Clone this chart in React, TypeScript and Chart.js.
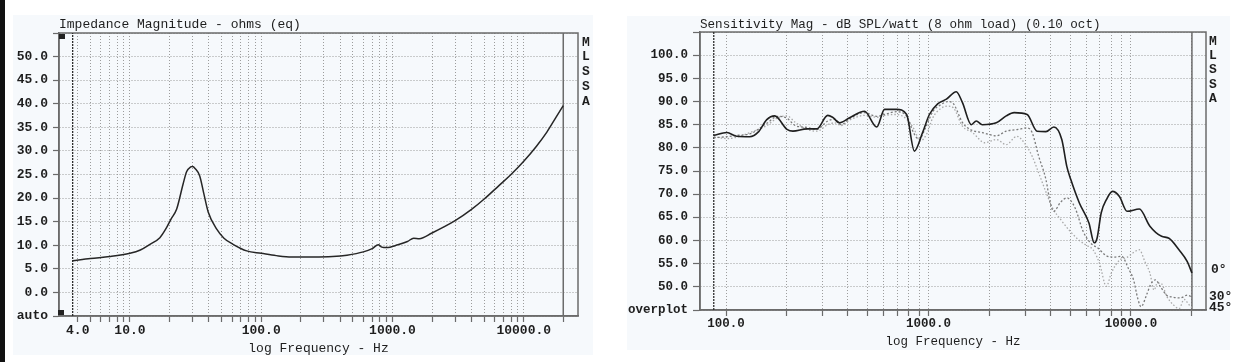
import React, { useEffect, useRef } from 'react';
import { Chart, registerables } from 'chart.js';
Chart.register(...registerables);

// ---------- Impedance (left) ----------
const impFreq = [3.66, 5, 7, 10, 12, 14.2, 16.9, 18.7, 20.5, 22.7, 25.4, 27, 29, 30, 31.5, 34, 36.5, 39.5, 45.8, 52, 61, 77.5, 100, 130, 170, 250, 350, 450, 600, 700, 780, 830, 900, 1100, 1300, 1450, 1600, 2000, 3000, 4000, 5000, 6500, 8000, 10000, 12500, 15000, 17500, 20000];
const impOhms = [6.7, 7.2, 7.6, 8.3, 9.0, 10.2, 11.6, 13.4, 15.5, 17.7, 23.0, 25.6, 26.6, 26.7, 26.2, 24.7, 21.0, 17.0, 13.4, 11.5, 10.2, 8.8, 8.3, 7.8, 7.5, 7.5, 7.6, 7.9, 8.6, 9.3, 10.1, 9.6, 9.5, 10.1, 10.8, 11.5, 11.4, 12.6, 15.2, 17.6, 19.8, 22.7, 25.0, 27.8, 31.0, 34.0, 37.0, 39.6];
const impYRange = [-5, 55];
const impXRange = [2.88, 25900];
const impXTicks = [4, 5, 6, 7, 8, 9, 10, 20, 30, 40, 50, 60, 70, 80, 90, 100, 200, 300, 400, 500, 600, 700, 800, 900, 1000, 2000, 3000, 4000, 5000, 6000, 7000, 8000, 9000, 10000, 20000];
const impXLabels: Record<number, string> = { 4: '4.0', 10: '10.0', 100: '100.0', 1000: '1000.0', 10000: '10000.0' };

// ---------- Sensitivity (right) ----------
const spl0Freq = [87, 101, 113, 131, 145, 159, 174, 200, 214, 251, 281, 318, 336, 364, 408, 483, 555, 607, 695, 780, 852, 935, 1010, 1110, 1226, 1372, 1470, 1627, 1722, 1845, 2162, 2420, 2649, 3070, 3434, 3800, 4160, 4553, 4820, 5040, 5560, 6200, 6580, 6800, 7130, 7560, 8100, 8770, 9570, 11000, 12400, 14170, 15400, 17260, 18940, 20000];
const spl0 = [82.7, 83.3, 82.5, 82.4, 83.5, 86.1, 86.9, 84.0, 83.6, 84.1, 84.1, 87.0, 86.6, 85.4, 86.5, 87.9, 84.5, 88.3, 88.3, 87.2, 79.3, 83.3, 87.2, 89.5, 90.5, 92.1, 89.8, 85.0, 85.8, 85.0, 85.4, 86.9, 87.6, 87.2, 83.6, 83.5, 84.5, 81.8, 76.0, 73.2, 68.1, 63.8, 59.5, 60.5, 66.0, 68.8, 70.6, 69.5, 66.3, 66.8, 63.1, 60.9, 60.5, 58.0, 55.5, 53.0];
const spl30Freq = [87, 101, 113, 131, 159, 180, 200, 220, 251, 281, 318, 345, 370, 408, 483, 555, 607, 695, 780, 850, 900, 960, 1050, 1150, 1250, 1330, 1470, 1600, 1845, 2162, 2420, 2800, 3070, 3250, 3500, 3800, 4000, 4150, 4500, 4820, 5300, 5800, 6300, 6900, 7500, 8200, 9000, 9700, 10300, 10800, 11200, 12000, 12500, 13200, 14000, 15000, 16000, 17500, 19000, 20000];
const spl30 = [82.2, 82.4, 82.7, 83.0, 85.3, 86.8, 86.4, 84.8, 84.4, 84.0, 85.8, 86.2, 85.0, 86.3, 87.6, 86.8, 87.2, 87.8, 86.8, 83.0, 81.8, 84.0, 87.8, 89.3, 90.0, 89.5, 85.5, 84.0, 83.3, 82.6, 83.6, 84.0, 84.3, 83.3, 78.2, 73.2, 68.0, 66.3, 68.3, 69.2, 67.0, 62.0, 59.5, 58.3, 56.8, 56.4, 56.6, 54.0, 51.5, 47.5, 45.7, 48.5, 50.5, 51.5, 50.0, 48.2, 47.8, 47.6, 48.2, 47.8];
const spl45Freq = [87, 101, 113, 131, 159, 180, 200, 220, 251, 281, 318, 345, 370, 408, 483, 555, 607, 695, 780, 850, 910, 980, 1050, 1150, 1250, 1330, 1470, 1650, 1900, 2162, 2420, 2730, 2970, 3250, 3500, 3800, 4100, 4500, 5000, 5500, 6000, 6500, 7000, 7560, 8000, 8800, 9500, 10300, 11000, 11700, 12400, 13000, 13500, 14200, 15000, 16300, 17300, 18300, 19300, 20000];
const spl45 = [82.4, 82.0, 82.3, 83.3, 84.8, 86.5, 86.9, 85.5, 84.0, 83.6, 85.0, 85.4, 84.8, 86.0, 87.0, 86.6, 87.0, 87.2, 86.2, 84.0, 81.5, 83.0, 86.5, 88.5, 89.0, 88.6, 84.7, 83.3, 81.1, 81.8, 80.7, 82.5, 81.1, 78.2, 74.6, 70.5, 67.0, 64.5, 62.0, 60.2, 59.0, 58.0, 55.0, 50.1, 53.0, 55.8, 56.3, 57.4, 58.0, 55.5, 53.0, 49.3, 50.8, 50.6, 48.0, 46.0, 45.3, 47.3, 46.2, 45.5];
const splYRange = [45, 105];
const splXRange = [74.4, 23470];
const splXTicks = [100, 200, 300, 400, 500, 600, 700, 800, 900, 1000, 2000, 3000, 4000, 5000, 6000, 7000, 8000, 9000, 10000, 20000];
const splXLabels: Record<number, string> = { 100: '100.0', 1000: '1000.0', 10000: '10000.0' };

const FONT = "'Liberation Mono', 'DejaVu Sans Mono', monospace";
const AXIS = '#6b6b6b';
const GRID = '#9c9c9c';
const TEXT = '#1e1e1e';

const framePlugin = {
  id: 'frame',
  beforeDatasetsDraw(chart: any, _a: any, opts: any) {
    const { ctx, chartArea: a } = chart;
    ctx.save();
    ctx.strokeStyle = opts.color || AXIS;
    ctx.lineWidth = opts.width || 1.5;
    ctx.strokeRect(a.left, a.top, a.right - a.left, a.bottom - a.top);
    ctx.restore();
  },
};

const pts = (xs: number[], ys: number[]) => xs.map((x, i) => ({ x, y: ys[i] }));

function buildConfig(p: any) {
  const vline = (x: number, color: string, dash: number[], width: number) => ({
    data: [{ x, y: p.yRange[0] }, { x, y: p.yRange[1] }],
    borderColor: color, borderWidth: width, borderDash: dash, pointRadius: 0, order: 5,
  });
  return {
    type: 'line',
    data: {
      datasets: [
        ...p.series.map((s: any) => ({
          data: pts(s.x, s.y), borderColor: s.color, borderWidth: s.width, borderDash: s.dash,
          pointRadius: 0, cubicInterpolationMode: 'monotone', order: s.order,
        })),
        vline(p.xStart, '#2e2e2e', [2, 1], 1.3),
        vline(p.xEnd, AXIS, [], 1.5),
      ],
    },
    options: {
      responsive: false, maintainAspectRatio: false, animation: false,
      layout: { padding: { left: 0, right: p.padRight, top: 0, bottom: 0 } },
      plugins: {
        legend: { display: false }, tooltip: { enabled: false },
        title: {
          display: true, text: p.title, align: 'start', fullSize: false, color: TEXT,
          font: { family: FONT, size: p.titleSize, lineHeight: 1.2, weight: 'normal' },
          padding: { top: p.titlePadTop, bottom: p.titlePadBottom },
        },
        frame: { color: AXIS, width: 1.5 },
      },
      scales: {
        x: {
          type: 'logarithmic', min: p.xRange[0], max: p.xRange[1], bounds: 'data',
          afterBuildTicks: (s: any) => { s.ticks = p.xTicks.map((v: number) => ({ value: v })); },
          afterFit: (s: any) => { s.height = p.xAxisHeight; },
          grid: { color: GRID, lineWidth: 1, drawTicks: true, tickLength: 6, tickColor: AXIS, tickWidth: 1.2, tickBorderDash: [] },
          border: { display: true, color: AXIS, width: 1.5, dash: [1, 2] },
          ticks: {
            autoSkip: false, maxRotation: 0, minRotation: 0, padding: p.xTickPad, color: TEXT,
            font: { family: FONT, size: p.tickSize, weight: 'bold', lineHeight: 1.2 },
            callback: (v: number) => p.xLabels[v] ?? '',
          },
          title: {
            display: true, text: 'log Frequency - Hz', color: TEXT,
            font: { family: FONT, size: p.tickSize, lineHeight: 1.2 },
            padding: { top: 0, bottom: p.xTitlePadBottom },
          },
        },
        y: {
          type: 'linear', min: p.yRange[0], max: p.yRange[1],
          afterFit: (s: any) => { s.width = p.yAxisWidth; },
          grid: { color: GRID, lineWidth: 1, drawTicks: true, tickLength: p.yTickLen, tickColor: AXIS, tickWidth: 1.2, tickBorderDash: [] },
          border: { display: true, color: AXIS, width: 1.5, dash: [1, 2] },
          ticks: {
            stepSize: 5, padding: 5, color: TEXT,
            font: { family: FONT, size: p.tickSize, weight: 'bold', lineHeight: 1.2 },
            callback: (v: number) => (v === p.yRange[0] ? p.bottomLabel : v === p.yRange[1] ? '' : v.toFixed(1)),
          },
        },
      },
    },
    plugins: [framePlugin],
  };
}

function Panel({ cfg, left, width }: { cfg: any; left: number; width: number }) {
  const ref = useRef<HTMLCanvasElement>(null);
  useEffect(() => {
    const chart = new Chart(ref.current as HTMLCanvasElement, buildConfig(cfg) as any);
    return () => chart.destroy();
  }, []);
  return <canvas ref={ref} width={width} height={362} style={{ position: 'absolute', left, top: 0, width, height: 362 }} />;
}

const leftCfg = {
  title: 'Impedance Magnitude - ohms (eq)', titleSize: 13, titlePadTop: 17, titlePadBottom: 0.4,
  series: [{ x: impFreq, y: impOhms, color: '#262626', width: 1.5, dash: [], order: 1 }],
  xStart: impFreq[0], xEnd: impFreq[impFreq.length - 1], yRange: impYRange, xRange: impXRange,
  xTicks: impXTicks, xLabels: impXLabels, padRight: 22, xAxisHeight: 46, yAxisWidth: 59, yTickLen: 6,
  tickSize: 13, xTickPad: 1.2, xTitlePadBottom: 5.2, bottomLabel: 'auto',
};

const rightCfg = {
  title: 'Sensitivity Mag - dB SPL/watt (8 ohm load) (0.10 oct)', titleSize: 12.6, titlePadTop: 16.8, titlePadBottom: 0.1,
  series: [
    { x: spl0Freq, y: spl0, color: '#1f1f1f', width: 1.6, dash: [], order: 1 },
    { x: spl30Freq, y: spl30, color: '#7a7a7a', width: 1.3, dash: [2, 2], order: 2 },
    { x: spl45Freq, y: spl45, color: '#a8a8a8', width: 1.3, dash: [1.5, 2], order: 3 },
  ],
  xStart: spl0Freq[0], xEnd: spl0Freq[spl0Freq.length - 1], yRange: splYRange, xRange: splXRange,
  xTicks: splXTicks, xLabels: splXLabels, padRight: 24, xAxisHeight: 52, yAxisWidth: 80, yTickLen: 7,
  tickSize: 12.5, xTickPad: 0.5, xTitlePadBottom: 12.5, bottomLabel: 'overplot',
};

const sideText: React.CSSProperties = {
  position: 'absolute', fontFamily: FONT, fontWeight: 'bold', fontSize: 13, color: TEXT,
  whiteSpace: 'pre', textAlign: 'center', width: 14,
};

export default function App() {
  return (
    <div style={{ position: 'fixed', left: 0, top: 0, width: 1259, height: 362, background: '#ffffff', overflow: 'hidden' }}>
      <div style={{ position: 'absolute', left: 13, top: 15, width: 580, height: 340, background: '#f6f9fc' }} />
      <div style={{ position: 'absolute', left: 627, top: 16, width: 603, height: 334, background: '#f6f9fc' }} />
      <div style={{ position: 'absolute', left: 0, top: 0, width: 5, height: 362, background: '#111' }} />
      <Panel cfg={leftCfg} left={0} width={600} />
      <Panel cfg={rightCfg} left={620} width={610} />
      <div style={{ position: 'absolute', left: 59, top: 34, width: 6, height: 5, background: '#222' }} />
      <div style={{ position: 'absolute', left: 58, top: 310, width: 6, height: 5, background: '#222' }} />
      <div style={{ ...sideText, left: 579, top: 35.6, lineHeight: '14.8px' }}>{'M\nL\nS\nS\nA'}</div>
      <div style={{ ...sideText, left: 1206, top: 34.8, lineHeight: '14.3px' }}>{'M\nL\nS\nS\nA'}</div>
      <div style={{ ...sideText, width: 'auto', left: 1211, top: 262, lineHeight: '15px' }}>0°</div>
      <div style={{ ...sideText, width: 'auto', left: 1209, top: 289, lineHeight: '15px' }}>30°</div>
      <div style={{ ...sideText, width: 'auto', left: 1209, top: 300, lineHeight: '15px' }}>45°</div>
    </div>
  );
}
